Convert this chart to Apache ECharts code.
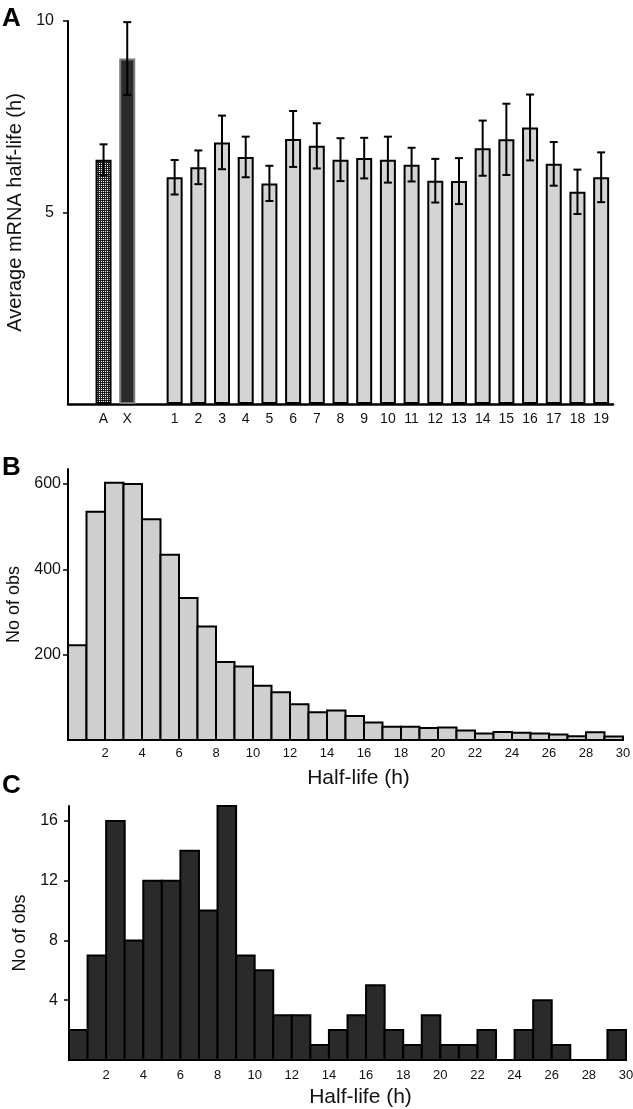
<!DOCTYPE html>
<html>
<head>
<meta charset="utf-8">
<script src="https://cdn.jsdelivr.net/npm/echarts@6/dist/echarts.min.js"></script>
<style>
html,body{margin:0;padding:0;background:#fff;}
#chart{width:633px;height:1109px;}
</style>
</head>
<body>
<div id="chart"></div>
<script>
// ---------- Panel A data ----------
const catsA = ['A','X','1','2','3','4','5','6','7','8','9','10','11','12','13','14','15','16','17','18','19'];
const meanA = [6.38, 9.02, 5.92, 6.18, 6.83, 6.45, 5.76, 6.92, 6.74, 6.38, 6.42, 6.38, 6.25, 5.83, 5.82, 6.68, 6.91, 7.22, 6.27, 5.54, 5.92];
const errA  = [0.40, 0.95, 0.45, 0.44, 0.70, 0.53, 0.46, 0.73, 0.59, 0.56, 0.53, 0.60, 0.44, 0.57, 0.60, 0.72, 0.93, 0.86, 0.57, 0.58, 0.65];
const yTicksA = [5, 10];

// ---------- Panel B data (bins of 1 h, 0-30) ----------
const countsB = [222, 535, 603, 600, 517, 434, 333, 266, 183, 172, 127, 112, 84, 65, 69, 56, 41, 31, 31, 28, 29, 22, 15, 19, 17, 15, 13, 9, 18, 8];
const yTicksB = [200, 400, 600];

// ---------- Panel C data ----------
const countsC = [2, 7, 16, 8, 12, 12, 14, 10, 17, 7, 6, 3, 3, 1, 2, 3, 5, 2, 1, 3, 1, 1, 2, 0, 2, 4, 1, 0, 0, 2];
const yTicksC = [4, 8, 12, 16];

const xTicksBC = [2,4,6,8,10,12,14,16,18,20,22,24,26,28,30];

// full category list for panel A (blank slots before A and between X and 1)
const fullCatsA = [' ', catsA[0], catsA[1], '\u00a0'].concat(catsA.slice(2));
function slotIndex(i){ return i < 2 ? i + 1 : i + 2; }

// dotted pattern for bar "A"
const pat = document.createElement('canvas');
pat.width = 4; pat.height = 4;
const pc = pat.getContext('2d');
pc.fillStyle = '#1e1e1e'; pc.fillRect(0,0,4,4);
pc.fillStyle = '#ffffff';
pc.fillRect(1,1,1,1); pc.fillRect(3,3,1,1); pc.fillRect(1,3,1,1); pc.fillRect(3,1,1,1);

const barData = fullCatsA.map(() => null);
catsA.forEach((c, i) => {
  let style;
  if (i === 0) style = {color: {image: pat, repeat: 'repeat'}, borderColor: '#000', borderWidth: 2};
  else if (i === 1) style = {color: '#2b2b2b', borderColor: '#7a7a7a', borderWidth: 2};
  else style = {color: '#d4d4d4', borderColor: '#000', borderWidth: 2};
  barData[slotIndex(i)] = {value: meanA[i], itemStyle: style};
});
const errData = catsA.map((c, i) => [slotIndex(i), meanA[i] - errA[i], meanA[i] + errA[i]]);

const FONT = 'Liberation Sans, Arial, Helvetica, sans-serif';
const axisLine = {show: true, lineStyle: {color: '#000', width: 2}};

function yAxisCommon(gridIndex, max, ticks, name, nameSize, nameGap, margin) {
  return {
    type: 'value', gridIndex, min: 0, max,
    name, nameLocation: 'middle', nameGap,
    nameTextStyle: {fontFamily: FONT, fontSize: nameSize, color: '#111'},
    axisLine, splitLine: {show: false},
    axisTick: {show: true, length: 5, lineStyle: {color: '#000', width: 1.5}, customValues: ticks},
    axisLabel: {fontFamily: FONT, fontSize: 16, color: '#111', margin, customValues: ticks}
  };
}
function xHistAxis(gridIndex, nameGap, margin) {
  return {
    type: 'value', gridIndex, min: 0, max: 30,
    name: 'Half-life (h)', nameLocation: 'middle', nameGap,
    nameTextStyle: {fontFamily: FONT, fontSize: 21, color: '#111', padding: [0, 0, 0, 26]},
    axisLine, splitLine: {show: false}, axisTick: {show: false},
    axisLabel: {fontFamily: FONT, fontSize: 13, color: '#111', margin, customValues: xTicksBC}
  };
}
function histSeries(xi, yi, counts, fill) {
  return {
    type: 'custom', xAxisIndex: xi, yAxisIndex: yi,
    data: counts.map((c, i) => [i, i + 1, c]),
    encode: {x: [0, 1], y: 2},
    renderItem: (params, api) => {
      const p0 = api.coord([api.value(0), api.value(2)]);
      const p1 = api.coord([api.value(1), 0]);
      return {type: 'rect', shape: {x: p0[0], y: p0[1], width: p1[0] - p0[0], height: p1[1] - p0[1]},
        style: {fill, stroke: '#000', lineWidth: 2}};
    }
  };
}

const chart = echarts.init(document.getElementById('chart'), null, {renderer: 'canvas'});
chart.setOption({
  animation: false,
  backgroundColor: '#fff',
  grid: [
    {left: 68, right: 20, top: 21, bottom: 705, outerBoundsMode: 'none', containLabel: false},
    {left: 68, right: 10, top: 469, bottom: 369, outerBoundsMode: 'none', containLabel: false},
    {left: 69, right: 7, top: 806, bottom: 49, outerBoundsMode: 'none', containLabel: false}
  ],
  xAxis: [
    {type: 'category', gridIndex: 0, data: fullCatsA, boundaryGap: true,
     axisLine: {show: true, lineStyle: {color: '#000', width: 2.5}}, axisTick: {show: false},
     axisLabel: {fontFamily: FONT, fontSize: 14, color: '#111', margin: 8, interval: 0}},
    xHistAxis(1, 28, 7),
    xHistAxis(2, 27, 9)
  ],
  yAxis: [
    yAxisCommon(0, 10, yTicksA, 'Average mRNA half-life (h)', 20, 35, 14),
    yAxisCommon(1, 635, yTicksB, 'No of obs', 18, 36, 7),
    yAxisCommon(2, 17, yTicksC, 'No of obs', 18, 34, 11)
  ],
  series: [
    {type: 'bar', xAxisIndex: 0, yAxisIndex: 0, data: barData, barWidth: 16},
    {type: 'custom', xAxisIndex: 0, yAxisIndex: 0, data: errData, z: 5,
     encode: {x: 0, y: [1, 2]},
     renderItem: (params, api) => {
       const lo = api.coord([api.value(0), api.value(1)]);
       const hi = api.coord([api.value(0), api.value(2)]);
       const cw = 4;
       const st = {stroke: '#000', lineWidth: 2};
       return {type: 'group', children: [
         {type: 'line', shape: {x1: hi[0], y1: hi[1], x2: lo[0], y2: lo[1]}, style: st},
         {type: 'line', shape: {x1: hi[0] - cw, y1: hi[1], x2: hi[0] + cw, y2: hi[1]}, style: st},
         {type: 'line', shape: {x1: lo[0] - cw, y1: lo[1], x2: lo[0] + cw, y2: lo[1]}, style: st}
       ]};
     }},
    histSeries(1, 1, countsB, '#cfcfcf'),
    histSeries(2, 2, countsC, '#2a2a2a')
  ],
  graphic: [
    {type: 'text', left: 2, top: 6, style: {text: 'A', font: 'bold 26px ' + FONT, fill: '#000'}},
    {type: 'text', left: 2, top: 455, style: {text: 'B', font: 'bold 26px ' + FONT, fill: '#000'}},
    {type: 'text', left: 2, top: 773, style: {text: 'C', font: 'bold 26px ' + FONT, fill: '#000'}}
  ]
});
</script>
</body>
</html>
